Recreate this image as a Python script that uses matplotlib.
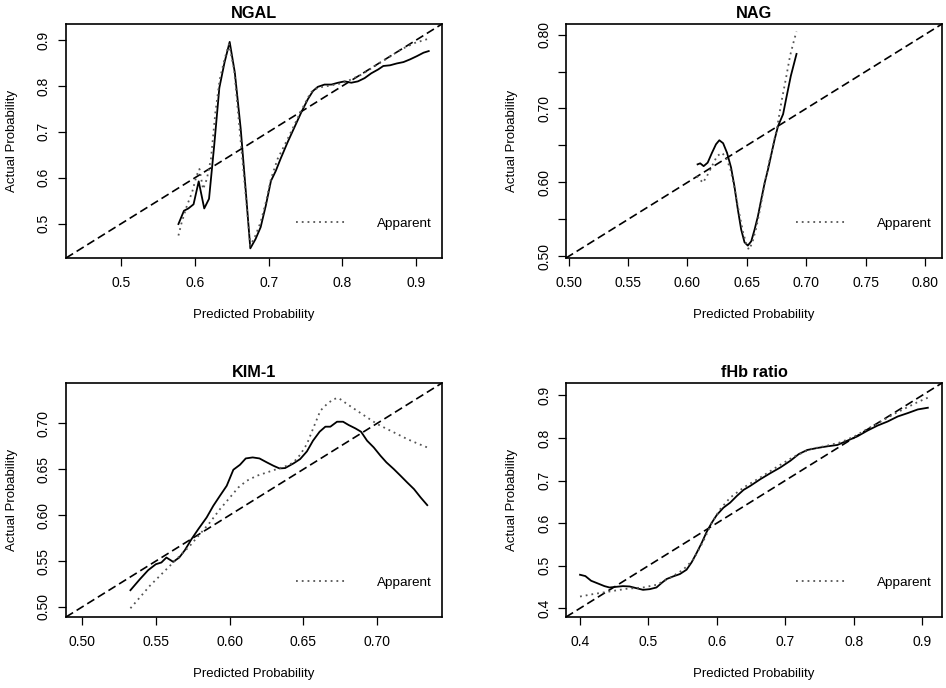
import matplotlib
matplotlib.use("Agg")
import matplotlib.pyplot as plt
import numpy as np

plt.rcParams["font.family"] = ["Liberation Sans", "DejaVu Sans"]

# ---- data ----
titles = ["NGAL", "NAG", "KIM-1", "fHb ratio"]

ngal_pred = [0.5775, 0.585, 0.591, 0.598, 0.605, 0.6125, 0.619, 0.626, 0.633, 0.640, 0.647,
             0.654, 0.662, 0.669, 0.675, 0.682, 0.689, 0.696, 0.703, 0.7096, 0.716, 0.7255,
             0.7346, 0.744, 0.753, 0.760, 0.7665, 0.7756, 0.785, 0.794, 0.803, 0.812, 0.821,
             0.830, 0.839, 0.8485, 0.8554, 0.8645, 0.8736, 0.8827, 0.8918, 0.901, 0.910, 0.917]
ngal_corrected = [0.499, 0.528, 0.533, 0.542, 0.592, 0.533, 0.554, 0.670, 0.796, 0.851, 0.896,
                  0.829, 0.706, 0.568, 0.446, 0.466, 0.492, 0.539, 0.593, 0.615, 0.641, 0.677,
                  0.709, 0.742, 0.771, 0.789, 0.798, 0.803, 0.803, 0.807, 0.810, 0.807, 0.810,
                  0.817, 0.8275, 0.836, 0.8435, 0.845, 0.849, 0.852, 0.858, 0.865, 0.8725, 0.876]
ngal_app_pred = [0.5775, 0.582, 0.589, 0.596, 0.602, 0.606, 0.611, 0.616, 0.6216, 0.6276, 0.6335,
                 0.640, 0.646, 0.653, 0.675, 0.682, 0.689, 0.696, 0.703, 0.712, 0.7255, 0.744,
                 0.757, 0.7665, 0.780, 0.794, 0.8075, 0.826, 0.844, 0.862, 0.880, 0.8986, 0.917]
ngal_apparent = [0.474, 0.503, 0.539, 0.568, 0.604, 0.619, 0.575, 0.597, 0.641, 0.742, 0.814,
                 0.858, 0.891, 0.836, 0.452, 0.474, 0.503, 0.546, 0.597, 0.641, 0.684, 0.746,
                 0.786, 0.796, 0.800, 0.804, 0.811, 0.825, 0.8435, 0.8616, 0.880, 0.894, 0.903]

nag_pred = [0.6085, 0.6107, 0.6136, 0.617, 0.6206, 0.624, 0.6268, 0.630, 0.6333, 0.6367, 0.6395,
            0.6424, 0.6452, 0.648, 0.6508, 0.6537, 0.6565, 0.6593, 0.6621, 0.665, 0.6678, 0.6706,
            0.6734, 0.6763, 0.6805, 0.6833, 0.687, 0.6918]
nag_corrected = [0.6244, 0.6258, 0.622, 0.6267, 0.640, 0.6516, 0.657, 0.653, 0.640, 0.620, 0.595,
                 0.5633, 0.5362, 0.519, 0.5145, 0.5204, 0.5362, 0.5543, 0.5769, 0.5995, 0.6176,
                 0.638, 0.6584, 0.6765, 0.6923, 0.715, 0.744, 0.7738]
nag_app_pred = [0.6079, 0.613, 0.6164, 0.6206, 0.6249, 0.6291, 0.6325, 0.6362, 0.6395, 0.6432,
                0.6469, 0.6497, 0.6517, 0.6545, 0.6579, 0.6616, 0.665, 0.6686, 0.672, 0.6757,
                0.679, 0.6828, 0.6864, 0.690, 0.6918]
nag_apparent = [0.6086, 0.5995, 0.6086, 0.622, 0.6357, 0.640, 0.6335, 0.6176, 0.5928, 0.561,
                0.5317, 0.5158, 0.509, 0.518, 0.5385, 0.5679, 0.5995, 0.6267, 0.6493, 0.6765,
                0.7081, 0.7398, 0.7715, 0.794, 0.804]

kim_pred = [0.5327, 0.539, 0.5447, 0.5499, 0.5537, 0.5571, 0.5617, 0.5658, 0.5696, 0.5741, 0.5787,
            0.5844, 0.5889, 0.5934, 0.598, 0.6025, 0.607, 0.6109, 0.6156, 0.6202, 0.6252, 0.6297,
            0.6338, 0.6376, 0.6433, 0.6478, 0.6524, 0.6565, 0.661, 0.6649, 0.6683, 0.6728, 0.6769,
            0.6807, 0.6853, 0.6891, 0.6932, 0.6977, 0.7023, 0.7063, 0.7113, 0.7159, 0.7204, 0.725,
            0.7295, 0.734]
kim_corrected = [0.5182, 0.530, 0.540, 0.5465, 0.5484, 0.5538, 0.5491, 0.5538, 0.5618, 0.5738,
                 0.5847, 0.5975, 0.6102, 0.6211, 0.632, 0.6495, 0.6549, 0.6618, 0.6629, 0.6618,
                 0.6575, 0.6538, 0.6509, 0.6513, 0.6564, 0.6611, 0.6695, 0.6811, 0.6909, 0.6964,
                 0.6964, 0.7018, 0.7018, 0.6982, 0.6945, 0.6909, 0.6811, 0.6738, 0.6647, 0.6575,
                 0.6502, 0.6429, 0.6356, 0.6284, 0.6193, 0.6109]
kim_app_pred = [0.5327, 0.539, 0.5458, 0.5526, 0.5594, 0.5662, 0.573, 0.5798, 0.5866, 0.5934,
                0.6002, 0.6059, 0.6116, 0.6184, 0.6252, 0.632, 0.6388, 0.6433, 0.6478, 0.6524,
                0.6569, 0.6615, 0.666, 0.6705, 0.6739, 0.6796, 0.6864, 0.6932, 0.700, 0.7068,
                0.7136, 0.7204, 0.7272, 0.734]
kim_apparent = [0.4985, 0.5102, 0.5229, 0.5338, 0.5447, 0.5556, 0.5665, 0.5793, 0.592, 0.6065,
                0.6193, 0.6302, 0.6375, 0.6429, 0.6465, 0.6502, 0.6538, 0.6575, 0.6658, 0.6775,
                0.6956, 0.7138, 0.7211, 0.7265, 0.7276, 0.7211, 0.7138, 0.7065, 0.6993, 0.6938,
                0.6884, 0.6829, 0.6782, 0.6738]

fhb_pred = [0.400, 0.4078, 0.4162, 0.426, 0.4357, 0.4431, 0.4529, 0.4627, 0.4725, 0.4823, 0.4921,
            0.5019, 0.5117, 0.519, 0.5263, 0.5361, 0.5459, 0.5557, 0.5631, 0.5704, 0.5778, 0.5851,
            0.5925, 0.5998, 0.6096, 0.6194, 0.6292, 0.639, 0.6488, 0.6635, 0.6782, 0.6928, 0.7075,
            0.7198, 0.732, 0.7467, 0.7614, 0.7761, 0.7908, 0.8055, 0.8202, 0.8349, 0.8496, 0.8643,
            0.8789, 0.8936, 0.9083]
fhb_corrected = [0.4787, 0.4756, 0.4646, 0.4583, 0.452, 0.4488, 0.4504, 0.452, 0.4512, 0.4472,
                 0.4433, 0.4449, 0.4488, 0.4591, 0.4685, 0.4748, 0.4803, 0.4906, 0.5079, 0.5299,
                 0.5535, 0.5795, 0.6008, 0.6189, 0.6362, 0.648, 0.6638, 0.678, 0.6874, 0.7031,
                 0.7173, 0.7307, 0.7465, 0.7622, 0.7717, 0.7764, 0.7803, 0.7835, 0.7937, 0.8039,
                 0.8173, 0.8291, 0.8386, 0.8504, 0.8583, 0.8669, 0.8709]
fhb_app_pred = [0.400, 0.4186, 0.4431, 0.4676, 0.4921, 0.5117, 0.5312, 0.5508, 0.5655, 0.5802,
                0.5925, 0.6047, 0.6194, 0.639, 0.6635, 0.688, 0.7124, 0.7369, 0.7614, 0.781,
                0.8006, 0.8202, 0.8398, 0.8594, 0.8789, 0.8936, 0.9083]
fhb_apparent = [0.4276, 0.4331, 0.4394, 0.4457, 0.4488, 0.4551, 0.4709, 0.4906, 0.5142, 0.5575,
                0.6008, 0.6323, 0.6598, 0.6835, 0.7071, 0.7323, 0.7559, 0.774, 0.7819, 0.7898,
                0.8031, 0.8213, 0.8386, 0.8567, 0.8724, 0.8843, 0.8945]

# axis limits and ticks per panel
limits = [(0.425, 0.935), (0.4977, 0.8143), (0.489, 0.744), (0.3795, 0.929)]
x_ticks = [[0.5, 0.6, 0.7, 0.8, 0.9],
           [0.50, 0.55, 0.60, 0.65, 0.70, 0.75, 0.80],
           [0.50, 0.55, 0.60, 0.65, 0.70],
           [0.4, 0.5, 0.6, 0.7, 0.8, 0.9]]
y_ticks = x_ticks[:]
y_ticks_shown = [[0.5, 0.6, 0.7, 0.8, 0.9],
                 [0.50, 0.60, 0.70, 0.80],
                 [0.50, 0.55, 0.60, 0.65, 0.70],
                 [0.4, 0.5, 0.6, 0.7, 0.8, 0.9]]
tick_fmt = ["{:.1f}", "{:.2f}", "{:.2f}", "{:.1f}"]

panels = [
    (ngal_pred, ngal_corrected, ngal_app_pred, ngal_apparent),
    (nag_pred, nag_corrected, nag_app_pred, nag_apparent),
    (kim_pred, kim_corrected, kim_app_pred, kim_apparent),
    (fhb_pred, fhb_corrected, fhb_app_pred, fhb_apparent),
]

# axes rectangles in pixels (left, top, right, bottom)
W, H = 946, 688
boxes = [(66, 24, 442, 258), (566, 24, 942, 258), (66, 383, 442, 617), (566, 383, 942, 617)]

fig = plt.figure(figsize=(W / 100, H / 100), dpi=100)

for i, (x0, y0, x1, y1) in enumerate(boxes):
    ax = fig.add_axes([x0 / W, 1 - y1 / H, (x1 - x0) / W, (y1 - y0) / H])
    pred, corr, app_pred, app = panels[i]
    lo, hi = limits[i]

    ax.plot([lo, hi], [lo, hi], color="black", lw=1.2, dashes=(5, 2.5))
    ax.plot(pred, corr, color="black", lw=1.3)
    ax.plot(app_pred, app, color="#555555", lw=1.3, linestyle=(0, (1, 2.2)), label="Apparent")

    ax.set_xlim(lo, hi)
    ax.set_ylim(lo, hi)
    ax.set_xticks(x_ticks[i])
    ax.set_xticklabels([tick_fmt[i].format(v) for v in x_ticks[i]])
    ax.set_yticks(y_ticks[i])
    ax.set_yticklabels([tick_fmt[i].format(v) if any(abs(v - s) < 1e-9 for s in y_ticks_shown[i]) else ""
                        for v in y_ticks[i]], rotation=90, va="center")
    ax.tick_params(direction="out", length=5.8, width=0.9, labelsize=10, color="black")
    ax.tick_params(axis="x", pad=7.5)
    ax.tick_params(axis="y", pad=5)
    for sp in ax.spines.values():
        sp.set_linewidth(1.2)

    ax.set_title(titles[i], fontsize=11.7, fontweight="bold", pad=4)
    ax.set_xlabel("Predicted Probability", fontsize=9.5)
    ax.set_ylabel("Actual Probability", fontsize=9.5)
    ax.xaxis.label.set_va("center")
    ax.yaxis.label.set_va("center")
    ax.xaxis.set_label_coords(0.5, -57 / (y1 - y0))
    ax.yaxis.set_label_coords(-54 / (x1 - x0), 0.5)

    ax.legend(loc="center left", bbox_to_anchor=(0.613, 0.148), frameon=False, fontsize=9.7,
              handlelength=3.7, handletextpad=2.3, borderpad=0, borderaxespad=0)

fig.savefig("out.png", dpi=100)
